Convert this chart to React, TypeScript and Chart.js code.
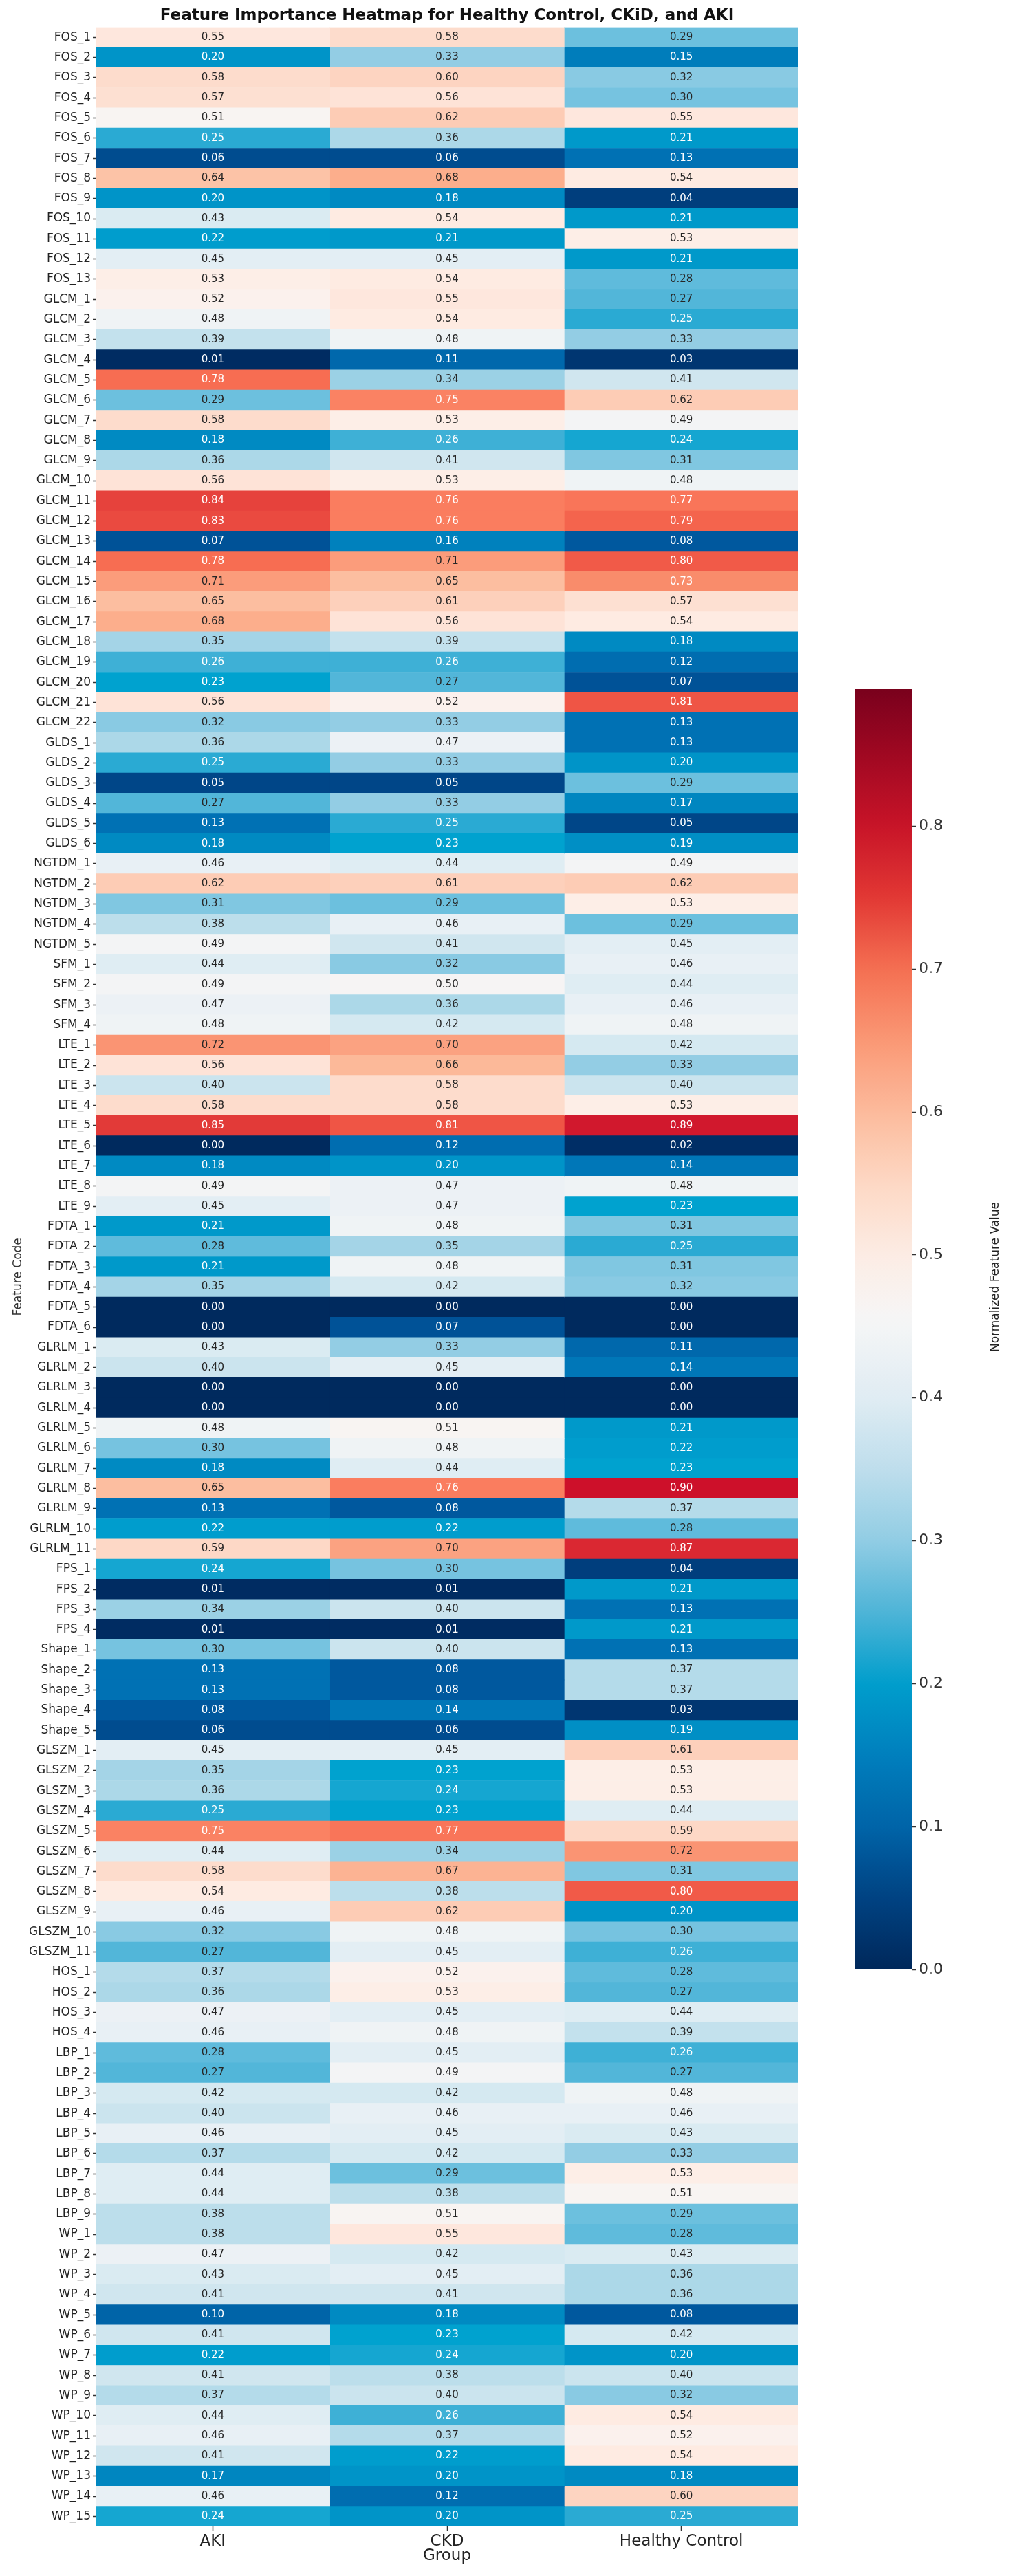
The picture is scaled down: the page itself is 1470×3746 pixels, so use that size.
import React, { useEffect, useRef } from 'react';
import { Chart, registerables } from 'chart.js';

Chart.register(...registerables);

const TITLE = 'Feature Importance Heatmap for Healthy Control, CKiD, and AKI';
const X_LABEL = 'Group';
const Y_LABEL = 'Feature Code';
const CBAR_LABEL = 'Normalized Feature Value';

const groups = ['AKI', 'CKD', 'Healthy Control'];

const features = [
  'FOS_1', 'FOS_2', 'FOS_3', 'FOS_4', 'FOS_5', 'FOS_6', 'FOS_7', 'FOS_8', 'FOS_9', 'FOS_10', 'FOS_11', 'FOS_12', 'FOS_13',
  'GLCM_1', 'GLCM_2', 'GLCM_3', 'GLCM_4', 'GLCM_5', 'GLCM_6', 'GLCM_7', 'GLCM_8', 'GLCM_9', 'GLCM_10', 'GLCM_11',
  'GLCM_12', 'GLCM_13', 'GLCM_14', 'GLCM_15', 'GLCM_16', 'GLCM_17', 'GLCM_18', 'GLCM_19', 'GLCM_20', 'GLCM_21', 'GLCM_22',
  'GLDS_1', 'GLDS_2', 'GLDS_3', 'GLDS_4', 'GLDS_5', 'GLDS_6',
  'NGTDM_1', 'NGTDM_2', 'NGTDM_3', 'NGTDM_4', 'NGTDM_5',
  'SFM_1', 'SFM_2', 'SFM_3', 'SFM_4',
  'LTE_1', 'LTE_2', 'LTE_3', 'LTE_4', 'LTE_5', 'LTE_6', 'LTE_7', 'LTE_8', 'LTE_9',
  'FDTA_1', 'FDTA_2', 'FDTA_3', 'FDTA_4', 'FDTA_5', 'FDTA_6',
  'GLRLM_1', 'GLRLM_2', 'GLRLM_3', 'GLRLM_4', 'GLRLM_5', 'GLRLM_6', 'GLRLM_7', 'GLRLM_8', 'GLRLM_9', 'GLRLM_10', 'GLRLM_11',
  'FPS_1', 'FPS_2', 'FPS_3', 'FPS_4',
  'Shape_1', 'Shape_2', 'Shape_3', 'Shape_4', 'Shape_5',
  'GLSZM_1', 'GLSZM_2', 'GLSZM_3', 'GLSZM_4', 'GLSZM_5', 'GLSZM_6', 'GLSZM_7', 'GLSZM_8', 'GLSZM_9', 'GLSZM_10', 'GLSZM_11',
  'HOS_1', 'HOS_2', 'HOS_3', 'HOS_4',
  'LBP_1', 'LBP_2', 'LBP_3', 'LBP_4', 'LBP_5', 'LBP_6', 'LBP_7', 'LBP_8', 'LBP_9',
  'WP_1', 'WP_2', 'WP_3', 'WP_4', 'WP_5', 'WP_6', 'WP_7', 'WP_8', 'WP_9', 'WP_10', 'WP_11', 'WP_12', 'WP_13', 'WP_14', 'WP_15',
];

const akiValues = [
  0.55, 0.20, 0.58, 0.57, 0.51, 0.25, 0.06, 0.64, 0.20, 0.43, 0.22, 0.45, 0.53,
  0.52, 0.48, 0.39, 0.01, 0.78, 0.29, 0.58, 0.18, 0.36, 0.56, 0.84, 0.83, 0.07, 0.78, 0.71, 0.65, 0.68, 0.35, 0.26, 0.23, 0.56, 0.32,
  0.36, 0.25, 0.05, 0.27, 0.13, 0.18,
  0.46, 0.62, 0.31, 0.38, 0.49,
  0.44, 0.49, 0.47, 0.48,
  0.72, 0.56, 0.40, 0.58, 0.85, 0.00, 0.18, 0.49, 0.45,
  0.21, 0.28, 0.21, 0.35, 0.00, 0.00,
  0.43, 0.40, 0.00, 0.00, 0.48, 0.30, 0.18, 0.65, 0.13, 0.22, 0.59,
  0.24, 0.01, 0.34, 0.01,
  0.30, 0.13, 0.13, 0.08, 0.06,
  0.45, 0.35, 0.36, 0.25, 0.75, 0.44, 0.58, 0.54, 0.46, 0.32, 0.27,
  0.37, 0.36, 0.47, 0.46,
  0.28, 0.27, 0.42, 0.40, 0.46, 0.37, 0.44, 0.44, 0.38,
  0.38, 0.47, 0.43, 0.41, 0.10, 0.41, 0.22, 0.41, 0.37, 0.44, 0.46, 0.41, 0.17, 0.46, 0.24,
];

const ckdValues = [
  0.58, 0.33, 0.60, 0.56, 0.62, 0.36, 0.06, 0.68, 0.18, 0.54, 0.21, 0.45, 0.54,
  0.55, 0.54, 0.48, 0.11, 0.34, 0.75, 0.53, 0.26, 0.41, 0.53, 0.76, 0.76, 0.16, 0.71, 0.65, 0.61, 0.56, 0.39, 0.26, 0.27, 0.52, 0.33,
  0.47, 0.33, 0.05, 0.33, 0.25, 0.23,
  0.44, 0.61, 0.29, 0.46, 0.41,
  0.32, 0.50, 0.36, 0.42,
  0.70, 0.66, 0.58, 0.58, 0.81, 0.12, 0.20, 0.47, 0.47,
  0.48, 0.35, 0.48, 0.42, 0.00, 0.07,
  0.33, 0.45, 0.00, 0.00, 0.51, 0.48, 0.44, 0.76, 0.08, 0.22, 0.70,
  0.30, 0.01, 0.40, 0.01,
  0.40, 0.08, 0.08, 0.14, 0.06,
  0.45, 0.23, 0.24, 0.23, 0.77, 0.34, 0.67, 0.38, 0.62, 0.48, 0.45,
  0.52, 0.53, 0.45, 0.48,
  0.45, 0.49, 0.42, 0.46, 0.45, 0.42, 0.29, 0.38, 0.51,
  0.55, 0.42, 0.45, 0.41, 0.18, 0.23, 0.24, 0.38, 0.40, 0.26, 0.37, 0.22, 0.20, 0.12, 0.20,
];

const healthyValues = [
  0.29, 0.15, 0.32, 0.30, 0.55, 0.21, 0.13, 0.54, 0.04, 0.21, 0.53, 0.21, 0.28,
  0.27, 0.25, 0.33, 0.03, 0.41, 0.62, 0.49, 0.24, 0.31, 0.48, 0.77, 0.79, 0.08, 0.80, 0.73, 0.57, 0.54, 0.18, 0.12, 0.07, 0.81, 0.13,
  0.13, 0.20, 0.29, 0.17, 0.05, 0.19,
  0.49, 0.62, 0.53, 0.29, 0.45,
  0.46, 0.44, 0.46, 0.48,
  0.42, 0.33, 0.40, 0.53, 0.89, 0.02, 0.14, 0.48, 0.23,
  0.31, 0.25, 0.31, 0.32, 0.00, 0.00,
  0.11, 0.14, 0.00, 0.00, 0.21, 0.22, 0.23, 0.90, 0.37, 0.28, 0.87,
  0.04, 0.21, 0.13, 0.21,
  0.13, 0.37, 0.37, 0.03, 0.19,
  0.61, 0.53, 0.53, 0.44, 0.59, 0.72, 0.31, 0.80, 0.20, 0.30, 0.26,
  0.28, 0.27, 0.44, 0.39,
  0.26, 0.27, 0.48, 0.46, 0.43, 0.33, 0.53, 0.51, 0.29,
  0.28, 0.43, 0.36, 0.36, 0.08, 0.42, 0.20, 0.40, 0.32, 0.54, 0.52, 0.54, 0.18, 0.60, 0.25,
];

const series = [akiValues, ckdValues, healthyValues];

const colorbarMin = 0;
const colorbarMax = 0.896;
const colorbarStep = 0.1;

type Stop = [number, number, number, number];

// colour map for the cells (value, r, g, b) sampled from the reference cells
const CELL_CMAP: Stop[] = [
  [0.0, 0, 42, 94],
  [0.02, 0, 46, 102],
  [0.05, 0, 70, 136],
  [0.08, 0, 88, 158],
  [0.1, 0, 100, 168],
  [0.13, 0, 113, 180],
  [0.15, 0, 125, 187],
  [0.18, 0, 138, 194],
  [0.2, 0, 148, 200],
  [0.23, 0, 162, 207],
  [0.25, 42, 170, 211],
  [0.27, 82, 182, 217],
  [0.29, 108, 192, 222],
  [0.33, 147, 205, 228],
  [0.36, 172, 216, 232],
  [0.4, 203, 228, 238],
  [0.43, 218, 235, 242],
  [0.46, 232, 240, 245],
  [0.49, 243, 244, 245],
  [0.51, 248, 244, 242],
  [0.53, 253, 238, 231],
  [0.55, 254, 231, 221],
  [0.58, 253, 220, 204],
  [0.62, 253, 204, 181],
  [0.65, 252, 190, 160],
  [0.68, 252, 174, 140],
  [0.71, 251, 156, 123],
  [0.73, 249, 140, 107],
  [0.76, 250, 125, 95],
  [0.78, 247, 109, 82],
  [0.8, 241, 90, 72],
  [0.83, 234, 74, 64],
  [0.85, 226, 58, 56],
  [0.87, 218, 40, 50],
  [0.9, 205, 16, 42],
];

// colour ramp as it appears on the reference colour bar
const COLORBAR_CMAP: Stop[] = [
  [0.0, 0, 40, 90],
  [0.05, 0, 66, 130],
  [0.1, 0, 100, 168],
  [0.15, 0, 127, 189],
  [0.2, 0, 158, 204],
  [0.25, 78, 180, 215],
  [0.3, 145, 205, 228],
  [0.35, 190, 222, 236],
  [0.4, 224, 236, 243],
  [0.455, 246, 246, 246],
  [0.5, 252, 236, 228],
  [0.55, 253, 216, 196],
  [0.6, 252, 186, 156],
  [0.65, 250, 152, 117],
  [0.7, 244, 112, 82],
  [0.75, 226, 56, 52],
  [0.8, 200, 20, 40],
  [0.85, 160, 8, 34],
  [0.9, 118, 0, 28],
];

const LIGHT_TEXT_BELOW = 0.265;
const LIGHT_TEXT_ABOVE = 0.725;

function rampColor(stops: Stop[], v: number): string {
  if (v <= stops[0][0]) return `rgb(${stops[0][1]},${stops[0][2]},${stops[0][3]})`;
  for (let i = 1; i < stops.length; i++) {
    const a = stops[i - 1];
    const b = stops[i];
    if (v <= b[0]) {
      const t = (v - a[0]) / (b[0] - a[0]);
      const r = Math.round(a[1] + (b[1] - a[1]) * t);
      const g = Math.round(a[2] + (b[2] - a[2]) * t);
      const bl = Math.round(a[3] + (b[3] - a[3]) * t);
      return `rgb(${r},${g},${bl})`;
    }
  }
  const l = stops[stops.length - 1];
  return `rgb(${l[1]},${l[2]},${l[3]})`;
}

const colorFor = (v: number) => rampColor(CELL_CMAP, v);

function textColorFor(v: number): string {
  return v < LIGHT_TEXT_BELOW || v > LIGHT_TEXT_ABOVE ? '#ffffff' : '#262626';
}

const FONT = "'DejaVu Sans', 'Liberation Sans', sans-serif";
const TEXT = '#222222';

const annotationPlugin = {
  id: 'cellAnnotations',
  afterDatasetsDraw(chart: any) {
    const ctx = chart.ctx;
    ctx.save();
    ctx.font = `15px ${FONT}`;
    ctx.textAlign = 'center';
    ctx.textBaseline = 'middle';
    chart.data.datasets.forEach((_ds: any, di: number) => {
      const meta = chart.getDatasetMeta(di);
      meta.data.forEach((el: any, i: number) => {
        const v = series[di][i];
        const cx = (el.x + el.base) / 2;
        ctx.fillStyle = textColorFor(v);
        ctx.fillText(v.toFixed(2), cx, el.y);
      });
    });
    ctx.restore();
  },
};

const colorbarLabelPlugin = {
  id: 'colorbarLabel',
  afterDraw(chart: any) {
    const { ctx, chartArea } = chart;
    ctx.save();
    ctx.font = `17px ${FONT}`;
    ctx.fillStyle = TEXT;
    ctx.textAlign = 'center';
    ctx.textBaseline = 'middle';
    ctx.translate(chartArea.right + 122, (chartArea.top + chartArea.bottom) / 2 - 76);
    ctx.rotate(-Math.PI / 2);
    ctx.fillText(CBAR_LABEL, 0, 0);
    ctx.restore();
  },
};

export default function App() {
  const mainRef = useRef<HTMLCanvasElement>(null);
  const cbarRef = useRef<HTMLCanvasElement>(null);

  useEffect(() => {
    document.body.style.margin = '0';
    Chart.defaults.font.family = FONT;
    Chart.defaults.color = TEXT;

    const main = new Chart(mainRef.current as HTMLCanvasElement, {
      type: 'bar',
      data: {
        labels: features,
        datasets: series.map((vals, c) => ({
          label: groups[c],
          data: vals.map(() => [c, c + 1]),
          backgroundColor: vals.map(colorFor),
          borderWidth: 0,
          grouped: false,
          barPercentage: 1,
          categoryPercentage: 1,
        })) as any,
      },
      options: {
        indexAxis: 'y',
        responsive: false,
        animation: false,
        events: [],
        layout: { padding: { left: 0, right: 19, top: 0, bottom: 0 } },
        plugins: {
          legend: { display: false },
          tooltip: { enabled: false },
          title: {
            display: true,
            text: TITLE,
            fullSize: false,
            color: '#111111',
            font: { size: 23, weight: 'bold', family: FONT },
            padding: { top: 9, bottom: 3 },
          },
        },
        scales: {
          x: {
            type: 'linear',
            position: 'bottom',
            min: 0,
            max: groups.length,
            afterBuildTicks: (s: any) => {
              s.ticks = groups.map((_g, i) => ({ value: i + 0.5 }));
            },
            ticks: {
              callback: (_v: any, i: number) => groups[i],
              font: { size: 23 },
              color: TEXT,
              padding: 2,
              maxRotation: 0,
              autoSkip: false,
            },
            grid: {
              display: true,
              drawOnChartArea: false,
              drawTicks: true,
              tickLength: 6,
              tickWidth: 1.5,
              tickColor: '#333333',
            },
            border: { display: false },
            title: {
              display: true,
              text: X_LABEL,
              font: { size: 23 },
              color: TEXT,
              padding: { top: 0, bottom: 15 },
            },
            afterFit: (s: any) => {
              s.height = 72;
            },
          } as any,
          y: {
            type: 'category',
            position: 'left',
            offset: true,
            ticks: { autoSkip: false, font: { size: 17 }, color: TEXT, padding: 3 },
            grid: {
              display: true,
              offset: false,
              drawOnChartArea: false,
              drawTicks: true,
              tickLength: 4,
              tickWidth: 1.5,
              tickColor: '#333333',
            },
            border: { display: false },
            title: {
              display: true,
              text: Y_LABEL,
              font: { size: 17 },
              color: '#333333',
              padding: { top: 16, bottom: 0 },
            },
            afterFit: (s: any) => {
              s.width = 139;
            },
          } as any,
        },
      },
      plugins: [annotationPlugin],
    });

    const cbar = new Chart(cbarRef.current as HTMLCanvasElement, {
      type: 'bar',
      data: {
        labels: [''],
        datasets: [
          {
            data: [[colorbarMin, colorbarMax]] as any,
            backgroundColor: (c: any) => {
              const ch = c.chart;
              const ys = ch.scales?.y;
              if (!ch.chartArea || !ys) return colorFor(0.45);
              const y0 = ys.getPixelForValue(colorbarMin);
              const y1 = ys.getPixelForValue(colorbarMax);
              const g = ch.ctx.createLinearGradient(0, y0, 0, y1);
              const n = 90;
              for (let k = 0; k <= n; k++) {
                g.addColorStop(k / n, rampColor(COLORBAR_CMAP, colorbarMin + ((colorbarMax - colorbarMin) * k) / n));
              }
              return g;
            },
            borderWidth: 0,
            barPercentage: 1,
            categoryPercentage: 1,
          },
        ],
      },
      options: {
        responsive: false,
        animation: false,
        events: [],
        layout: { padding: { left: 43, right: 0, top: 22, bottom: 26 } },
        plugins: { legend: { display: false }, tooltip: { enabled: false }, title: { display: false } },
        scales: {
          x: { type: 'category', display: false, offset: true },
          y: {
            type: 'linear',
            position: 'right',
            min: colorbarMin,
            max: colorbarMax,
            ticks: {
              stepSize: colorbarStep,
              includeBounds: false,
              callback: (v: any) => Number(v).toFixed(1),
              font: { size: 22 },
              color: '#333333',
              padding: 4,
            },
            grid: {
              display: true,
              drawOnChartArea: false,
              drawTicks: true,
              tickLength: 6,
              tickWidth: 1.5,
              tickColor: '#333333',
            },
            border: { display: false },
            afterFit: (s: any) => {
              s.width = 144;
            },
          } as any,
        },
      },
      plugins: [colorbarLabelPlugin],
    });

    return () => {
      main.destroy();
      cbar.destroy();
    };
  }, []);

  return (
    <div style={{ position: 'relative', width: 1470, height: 3746, background: '#ffffff', overflow: 'hidden' }}>
      <canvas
        ref={mainRef}
        width={1180}
        height={3746}
        style={{ position: 'absolute', left: 0, top: 0, width: 1180, height: 3746 }}
      />
      <canvas
        ref={cbarRef}
        width={270}
        height={1910}
        style={{ position: 'absolute', left: 1200, top: 980, width: 270, height: 1910 }}
      />
    </div>
  );
}
